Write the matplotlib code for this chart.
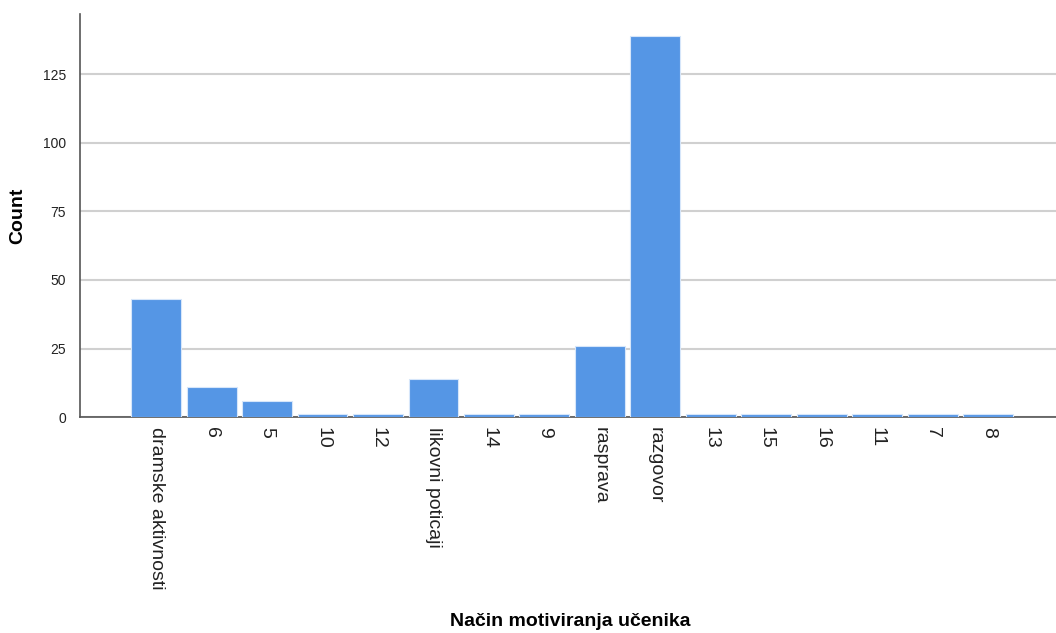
import matplotlib
matplotlib.use("Agg")
import matplotlib.pyplot as plt

categories = ["dramske aktivnosti", "6", "5", "10", "12", "likovni poticaji", "14", "9",
              "rasprava", "razgovor", "13", "15", "16", "11", "7", "8"]
counts = [43, 11, 6, 1, 1, 14, 1, 1, 26, 139, 1, 1, 1, 1, 1, 1]

plt.rcParams['font.family'] = ['Liberation Sans', 'DejaVu Sans']

fig = plt.figure(figsize=(10.56, 6.33), dpi=100)
ax = fig.add_axes([0.0758, 0.341, 0.9242, 0.637])

x = range(len(categories))
ax.bar(x, counts, width=0.9, color='#5596E5', edgecolor='#D6E6FA', linewidth=0.8, zorder=3)

ax.set_xlim(-1.37, 16.22)
ax.set_ylim(0, 147)
ax.set_yticks([0, 25, 50, 75, 100, 125])
ax.yaxis.grid(True, color='#D0D0D0', linewidth=1.5, zorder=0)
ax.set_axisbelow(True)

ax.set_xticks(list(x))
ax.set_xticklabels(categories, rotation=-90, ha='center', va='top', fontsize=14, color='#222222')
ax.tick_params(axis='x', length=0, pad=7)
ax.tick_params(axis='y', length=0, pad=10, labelsize=10, labelcolor='#222222')

for s in ['top', 'right']:
    ax.spines[s].set_visible(False)
for s in ['left', 'bottom']:
    ax.spines[s].set_color('#555555')
    ax.spines[s].set_linewidth(1.2)

ax.set_ylabel('Count', fontsize=14, fontweight='bold', labelpad=12)
fig.text(0.54, 0.005, 'Način motiviranja učenika', fontsize=14, fontweight='bold', ha='center', va='bottom')

fig.savefig('out.png', dpi=100)
